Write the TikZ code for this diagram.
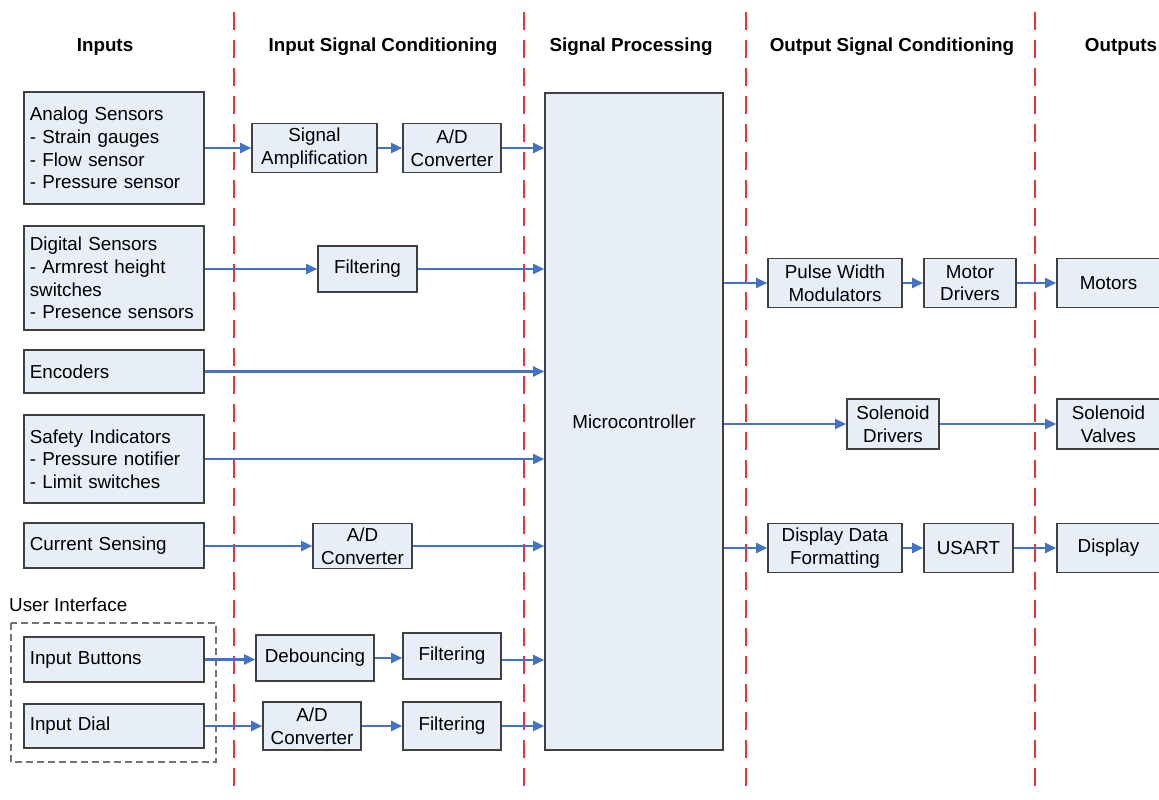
\documentclass[tikz,border=0pt]{standalone}
\usepackage{fontspec}
\setmainfont{Liberation Sans}
\usetikzlibrary{arrows.meta}
\definecolor{boxfill}{RGB}{232,238,247}
\definecolor{boxline}{RGB}{64,64,64}
\definecolor{flow}{RGB}{68,114,196}
\definecolor{lane}{RGB}{235,50,50}
\tikzset{
  txt/.style={font=\fontsize{18.8}{22.7}\selectfont},
  hdr/.style={font=\fontsize{18.8}{22.7}\selectfont\bfseries},
  blk/.style={draw=boxline, fill=boxfill, line width=1.6pt, inner sep=0pt,
    align=center, txt},
  srcbox/.style={draw=boxline, fill=boxfill, line width=1.6pt, anchor=west,
    text width=168pt, inner xsep=6pt, inner ysep=0pt, align=left, txt},
  flowarrow/.style={draw=flow, line width=2.2pt, -{Triangle[length=11pt,width=10pt]}},
  lanesep/.style={draw=lane, line width=1.6pt, dash pattern=on 18pt off 10pt},
  uigroup/.style={draw=gray!90!black, line width=1.6pt, dash pattern=on 7pt off 4pt}
}
\begin{document}
\begin{tikzpicture}[x=1pt,y=-1pt]
\useasboundingbox (0,0) rectangle (1159,800);

% lane separators
\foreach \lx in {234,524,746,1035}
  \draw[lanesep] (\lx,12) -- (\lx,795);

% column headings
\node[hdr] (hIn)  at (105,47)  {Inputs};
\node[hdr] (hIsc) at (383,47)  {Input Signal Conditioning};
\node[hdr] (hSp)  at (631,47)  {Signal Processing};
\node[hdr] (hOsc) at (892,47)  {Output Signal Conditioning};
\node[hdr] (hOut) at (1121,47) {Outputs};

% user interface group
\draw[uigroup] (11,623) rectangle (216,762);
\node[txt, anchor=west, inner sep=0pt] (uiLabel) at (9,605) {User Interface};

% inputs
\node[srcbox, minimum height=112pt] (analog) at (23,148)
  {Analog Sensors\\- Strain gauges\\- Flow sensor\\- Pressure sensor};
\node[srcbox, minimum height=104pt] (digital) at (23,278)
  {Digital Sensors\\- Armrest height\\switches\\- Presence sensors};
\node[srcbox, minimum height=43pt] (encoders) at (23,371.5) {Encoders};
\node[srcbox, minimum height=88pt] (safety) at (23,459)
  {Safety Indicators\\- Pressure notifier\\- Limit switches};
\node[srcbox, minimum height=45pt] (current) at (23,545.5) {Current Sensing};
\node[srcbox, minimum height=45pt] (buttons) at (23,659.5) {Input Buttons};
\node[srcbox, minimum height=44pt] (dial) at (23,726) {Input Dial};

% input signal conditioning
\node[blk, minimum width=125pt, minimum height=49pt] (amp) at (314.5,148) {Signal\\Amplification};
\node[blk, minimum width=98pt, minimum height=49pt] (adcA) at (452,148) {A/D\\Converter};
\node[blk, minimum width=99pt, minimum height=46pt] (filtD) at (367.5,269) {Filtering};
\node[blk, minimum width=99pt, minimum height=45pt] (adcC) at (362.5,546) {A/D\\Converter};
\node[blk, minimum width=118pt, minimum height=46pt] (debounce) at (315,658) {Debouncing};
\node[blk, minimum width=98pt, minimum height=46pt] (filtB) at (452,656) {Filtering};
\node[blk, minimum width=98pt, minimum height=48pt] (adcU) at (312,726) {A/D\\Converter};
\node[blk, minimum width=98pt, minimum height=48pt] (filtU) at (452,726) {Filtering};

% signal processing
\node[blk, minimum width=178pt, minimum height=657pt] (mcu) at (634,421.5) {Microcontroller};

% output signal conditioning
\node[blk, minimum width=134pt, minimum height=49pt] (pwm) at (835,283) {Pulse Width\\Modulators};
\node[blk, minimum width=92pt, minimum height=49pt] (motdrv) at (970,283) {Motor\\Drivers};
\node[blk, minimum width=92pt, minimum height=50pt] (soldrv) at (893,424) {Solenoid\\Drivers};
\node[blk, minimum width=134pt, minimum height=49pt] (fmt) at (835,548) {Display Data\\Formatting};
\node[blk, minimum width=89pt, minimum height=49pt] (usart) at (968.5,548) {USART};

% outputs
\node[blk, minimum width=103pt, minimum height=49pt] (motors) at (1108.5,283) {Motors};
\node[blk, minimum width=103pt, minimum height=50pt] (valves) at (1108.5,424) {Solenoid\\Valves};
\node[blk, minimum width=103pt, minimum height=49pt] (display) at (1108.5,548) {Display};

% input paths
\draw[flowarrow] (analog.east |- amp.west) -- (amp.west);
\draw[flowarrow] (amp) -- (adcA);
\draw[flowarrow] (adcA.east) -- (adcA.east -| mcu.west);
\draw[flowarrow] (digital.east |- filtD.west) -- (filtD.west);
\draw[flowarrow] (filtD.east) -- (filtD.east -| mcu.west);
\draw[flowarrow] (encoders.east) -- (encoders.east -| mcu.west);
\draw[flowarrow] (safety.east) -- (safety.east -| mcu.west);
\draw[flowarrow] (current.east |- adcC.west) -- (adcC.west);
\draw[flowarrow] (adcC.east) -- (adcC.east -| mcu.west);
\draw[flowarrow] (buttons.east) -- (buttons.east -| debounce.west);
\draw[flowarrow] (debounce.east) -- (debounce.east -| filtB.west);
\draw[flowarrow] ([yshift=-4pt]filtB.east) -- ([yshift=-4pt]filtB.east -| mcu.west);
\draw[flowarrow] (dial.east) -- (adcU.west);
\draw[flowarrow] (adcU) -- (filtU);
\draw[flowarrow] (filtU.east) -- (filtU.east -| mcu.west);

% output paths
\draw[flowarrow] (mcu.east |- pwm.west) -- (pwm.west);
\draw[flowarrow] (pwm) -- (motdrv);
\draw[flowarrow] (motdrv) -- (motors);
\draw[flowarrow] (mcu.east |- soldrv.west) -- (soldrv.west);
\draw[flowarrow] (soldrv) -- (valves);
\draw[flowarrow] (mcu.east |- fmt.west) -- (fmt.west);
\draw[flowarrow] (fmt) -- (usart);
\draw[flowarrow] (usart) -- (display);
\end{tikzpicture}
\end{document}
